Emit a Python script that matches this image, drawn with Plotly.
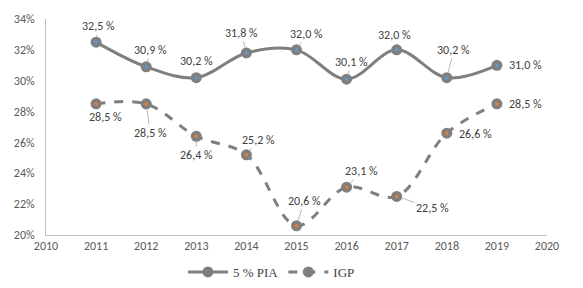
import plotly.graph_objects as go

years = [2011, 2012, 2013, 2014, 2015, 2016, 2017, 2018, 2019]
pia = [32.5, 30.9, 30.2, 31.8, 32.0, 30.1, 32.0, 30.2, 31.0]
igp = [28.5, 28.5, 26.4, 25.2, 20.6, 23.1, 22.5, 26.6, 28.5]
y_ticks = [20, 22, 24, 26, 28, 30, 32, 34]
x_ticks = [2010, 2011, 2012, 2013, 2014, 2015, 2016, 2017, 2018, 2019, 2020]

# label offsets (pixels) and leader-line visibility for data labels
pia_off = [(2, -16), (4, -17), (0, -17), (-5, -20), (10, -16), (5, -17), (-2, -15), (7, -28), (29, 0)]
pia_lead = [True, True, False, True, True, True, False, True, False]
igp_off = [(9, 13), (4, 29), (0, 19), (12, -15), (8, -25), (15, -16), (36, 12), (29, 1), (29, 0)]
igp_lead = [False, True, True, True, True, True, True, False, False]

GREY = "#7f7f7f"
SANS = "Carlito, Liberation Sans Narrow, Roboto, sans-serif"
LABEL_FONT = dict(family=SANS, size=12, color="#404040")

fig = go.Figure()
fig.add_trace(go.Scatter(
    x=years, y=pia, name="5 % PIA", mode="lines+markers",
    line=dict(color=GREY, width=3, shape="spline", smoothing=1.0),
    marker=dict(color=GREY, size=11),
))
fig.add_trace(go.Scatter(
    x=years, y=igp, name="IGP", mode="lines+markers",
    line=dict(color=GREY, width=3, dash="dash", shape="spline", smoothing=1.0),
    marker=dict(color=GREY, size=11),
))
fig.add_trace(go.Scatter(
    x=years, y=pia, mode="markers", showlegend=False, hoverinfo="skip",
    marker=dict(color="#5b9bd5", size=3, symbol="square"),
))
fig.add_trace(go.Scatter(
    x=years, y=igp, mode="markers", showlegend=False, hoverinfo="skip",
    marker=dict(color="#ed7d31", size=3, symbol="square"),
))


def fmt(v):
    return f"{v:.1f} %".replace(".", ",")


for series, offs, leads in ((pia, pia_off, pia_lead), (igp, igp_off, igp_lead)):
    for x, v, (ax, ay), lead in zip(years, series, offs, leads):
        fig.add_annotation(
            x=x, y=v, text=fmt(v), showarrow=True, arrowhead=0,
            arrowwidth=0.8, arrowcolor="#a6a6a6" if lead else "rgba(0,0,0,0)",
            standoff=5, ax=ax, ay=ay, font=LABEL_FONT,
        )

# page body has an 8px default margin, so the figure is offset by 8px
fig.update_layout(
    width=575, height=280,
    margin=dict(l=38, r=36, t=11, b=53, autoexpand=False),
    paper_bgcolor="white", plot_bgcolor="white",
    separators=", ",
    showlegend=True,
    legend=dict(
        orientation="h", x=0.45, xanchor="center", y=-0.171, yanchor="middle",
        font=dict(family="Liberation Serif, serif", size=13, color="#404040"),
        itemwidth=40, tracegroupgap=0,
    ),
    xaxis=dict(
        range=[2010, 2020], tickvals=x_ticks, ticktext=[str(t) for t in x_ticks],
        showgrid=False, zeroline=False, showline=True, linecolor="#bfbfbf", linewidth=1,
        ticks="", automargin=False,
        tickfont=dict(family=SANS, size=12, color="#595959"),
    ),
    yaxis=dict(
        range=[20, 34], tickvals=y_ticks, ticktext=[f"{t}%" for t in y_ticks],
        showgrid=False, zeroline=False, showline=True, linecolor="#bfbfbf", linewidth=1,
        ticks="", ticklabelstandoff=8, automargin=False,
        tickfont=dict(family=SANS, size=12, color="#595959"),
    ),
)

fig.write_html("out.html")
